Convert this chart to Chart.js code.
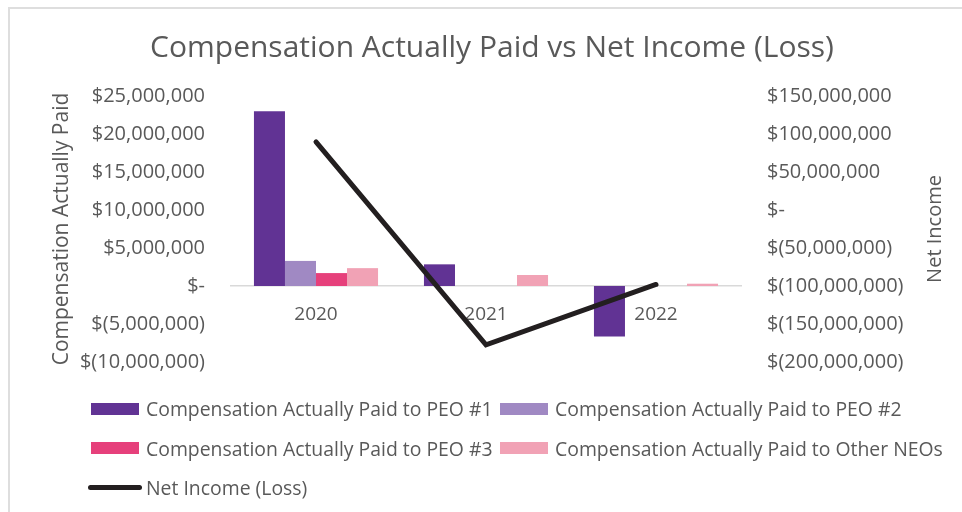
<!DOCTYPE html>
<html>
<head>
<meta charset="utf-8">
<script src="https://cdn.jsdelivr.net/npm/chart.js@4.4.1/dist/chart.umd.min.js"></script>
<style>
  html, body { margin: 0; padding: 0; background: #ffffff; }
  #wrap { position: relative; width: 962px; height: 512px; overflow: hidden; }
  #frame { position: absolute; left: 8px; top: 7px; width: 980px; height: 520px; border: 2px solid #dedede; box-sizing: border-box; }
  #chart { position: absolute; left: 0; top: 0; }
  #legend { position: absolute; left: 91px; top: 389px; display: grid; grid-template-columns: 409px 420px; grid-auto-rows: 39.5px;
            font-family: "Open Sans", sans-serif; font-size: 19.4px; color: #595959; }
  .item { display: flex; align-items: center; white-space: nowrap; }
  .swatch { width: 48px; height: 12px; margin-right: 7px; flex: none; }
  .swatch.line { width: 54px; height: 5px; border-radius: 3px; margin-left: -3px; margin-right: 4px; }
</style>
</head>
<body>
<div id="wrap">
  <div id="frame"></div>
  <canvas id="chart" width="962" height="512"></canvas>
  <div id="legend"></div>
</div>
<script>
// Fiscal years on the category axis
const years = ['2020', '2021', '2022'];

// Compensation actually paid (USD), left axis
const capPeo1 = [23000000, 2850000, -6650000];
const capPeo2 = [3300000, null, null];
const capPeo3 = [1700000, null, null];
const capOtherNeos = [2350000, 1450000, 300000];

// Net income (loss) (USD), right axis
const netIncome = [89500000, -177500000, -98000000];

// Axis tick labels, bottom to top
const compTickLabels = ['$(10,000,000)', '$(5,000,000)', '$-', '$5,000,000', '$10,000,000', '$15,000,000', '$20,000,000', '$25,000,000'];
const incomeTickLabels = ['$(200,000,000)', '$(150,000,000)', '$(100,000,000)', '$(50,000,000)', '$-', '$50,000,000', '$100,000,000', '$150,000,000'];

const gray = '#595959';
const baseFont = "'Open Sans', 'DejaVu Sans', sans-serif";

const datasets = [
  { type: 'line', label: 'Net Income (Loss)', data: netIncome, yAxisID: 'y2', order: 0,
    borderColor: '#231f20', backgroundColor: '#231f20', borderWidth: 5, pointRadius: 0,
    borderCapStyle: 'round', borderJoinStyle: 'miter', tension: 0 },
  { type: 'bar', label: 'Compensation Actually Paid to PEO #1', data: capPeo1, yAxisID: 'y', order: 1, backgroundColor: '#613394' },
  { type: 'bar', label: 'Compensation Actually Paid to PEO #2', data: capPeo2, yAxisID: 'y', order: 1, backgroundColor: '#a089c3' },
  { type: 'bar', label: 'Compensation Actually Paid to PEO #3', data: capPeo3, yAxisID: 'y', order: 1, backgroundColor: '#e6407b' },
  { type: 'bar', label: 'Compensation Actually Paid to Other NEOs', data: capOtherNeos, yAxisID: 'y', order: 1, backgroundColor: '#f1a2b5' }
];

// Right-hand axis title, read bottom-to-top like the left one
const rightAxisTitle = {
  id: 'rightAxisTitle',
  afterDraw(chart) {
    const { ctx, chartArea } = chart;
    ctx.save();
    ctx.translate(935, (chartArea.top + chartArea.bottom) / 2);
    ctx.rotate(-Math.PI / 2);
    ctx.font = "20px " + baseFont;
    ctx.fillStyle = gray;
    ctx.textAlign = 'center';
    ctx.textBaseline = 'middle';
    ctx.fillText('Net Income', 0, 0);
    ctx.restore();
  }
};

const chart = new Chart(document.getElementById('chart'), {
  data: { labels: years, datasets: datasets },
  plugins: [rightAxisTitle],
  options: {
    responsive: false,
    animation: false,
    events: [],
    layout: { padding: { left: 22, right: 0, top: 0, bottom: 150 } },
    datasets: { bar: { categoryPercentage: 0.73, barPercentage: 1.0 } },
    plugins: {
      legend: { display: false },
      tooltip: { enabled: false },
      title: {
        display: true,
        text: 'Compensation Actually Paid vs Net Income (Loss)',
        color: gray,
        font: { family: baseFont, size: 30, weight: 'normal' },
        padding: { top: 30, bottom: 30 }
      }
    },
    scales: {
      x: {
        position: { y: 0 },
        offset: true,
        grid: { display: false, drawTicks: false },
        border: { display: true, color: '#d9d9d9', width: 1.5 },
        ticks: { color: gray, font: { family: baseFont, size: 19 }, padding: 17 }
      },
      y: {
        position: 'left',
        min: -10000000, max: 25000000,
        ticks: { stepSize: 5000000, color: gray, font: { family: baseFont, size: 20 }, padding: 26,
                 callback: (v, i) => compTickLabels[i] },
        grid: { display: false, drawTicks: false },
        border: { display: false },
        title: { display: true, text: 'Compensation Actually Paid', color: gray,
                 font: { family: baseFont, size: 21 }, padding: { top: 27, bottom: 0 } },
        afterFit: s => { s.width = 209; }
      },
      y2: {
        position: 'right',
        min: -200000000, max: 150000000,
        ticks: { stepSize: 50000000, color: gray, font: { family: baseFont, size: 20 }, padding: 26,
                 callback: (v, i) => incomeTickLabels[i] },
        grid: { display: false, drawTicks: false },
        border: { display: false },
        afterFit: s => { s.width = 221; }
      }
    }
  }
});

// Legend: bars first (two per row), then the line
const legendEl = document.getElementById('legend');
const legendOrder = [1, 2, 3, 4, 0];
legendOrder.forEach(idx => {
  const ds = chart.data.datasets[idx];
  const item = document.createElement('div');
  item.className = 'item';
  const sw = document.createElement('span');
  sw.className = 'swatch' + (ds.type === 'line' ? ' line' : '');
  sw.style.background = ds.type === 'line' ? ds.borderColor : ds.backgroundColor;
  const txt = document.createElement('span');
  txt.textContent = ds.label;
  item.appendChild(sw);
  item.appendChild(txt);
  legendEl.appendChild(item);
});
</script>
</body>
</html>
